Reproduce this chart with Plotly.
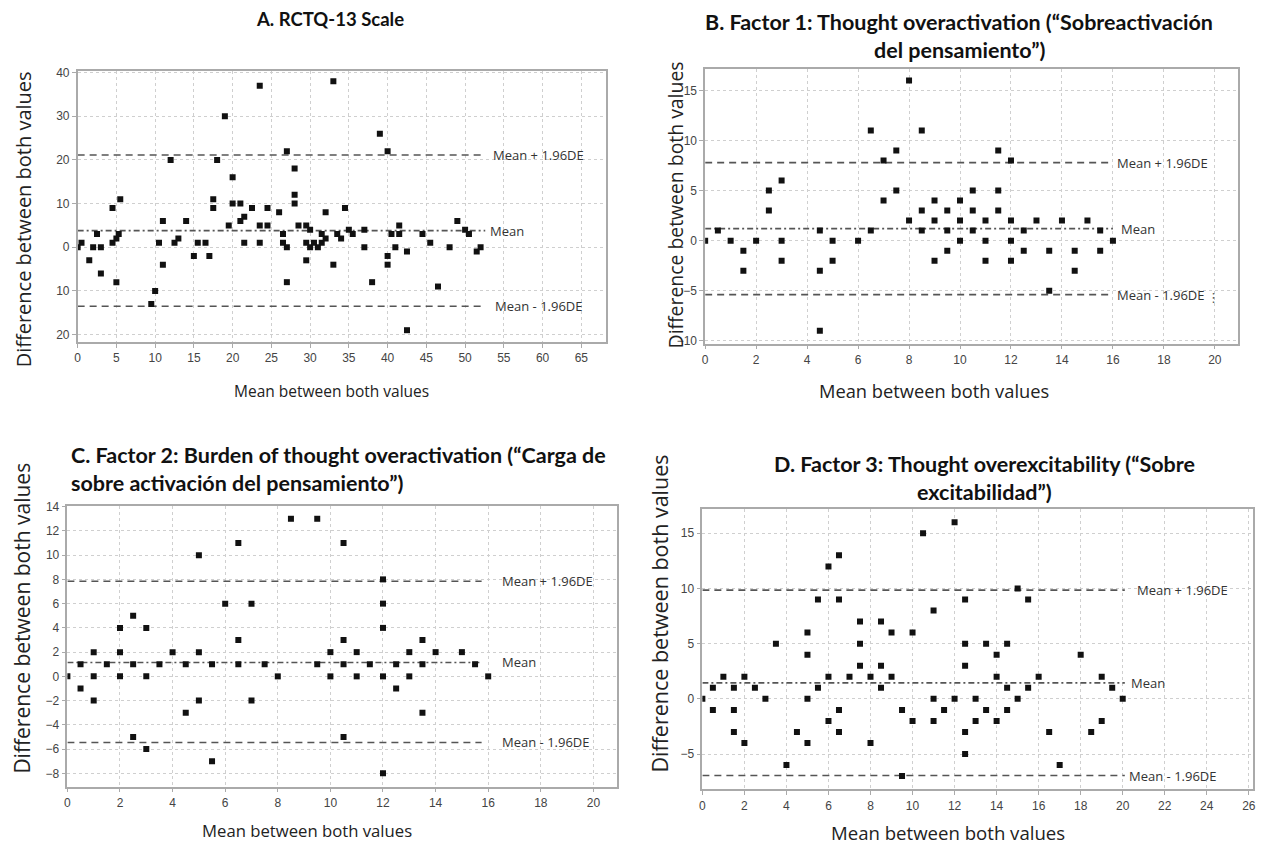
import plotly.graph_objects as go

# ---------------- DATA ----------------
# Panel A: RCTQ-13 Scale
a_mean = [0, 0.5, 1.5, 2, 2.5, 3, 3, 4.5, 4.5, 5, 5.3, 5.5, 5, 9.5, 10, 10.5, 11, 11, 12, 12.5,
          13, 14, 15, 15.5, 16.5, 17, 17.5, 17.5, 18, 19, 19.5, 20, 20, 21, 21, 21.5, 21.5, 22.5,
          23.5, 23.5, 23.5, 24.5, 24.5, 26, 26.5, 26.5, 27, 27, 27, 28, 28, 28, 28.5, 29.5, 29.5,
          29.5, 30, 30, 30.5, 31, 31.5, 31.5, 32, 32, 33, 33, 33.5, 34, 34.5, 35, 35.5, 37, 37,
          38, 39, 40, 40, 40, 40.5, 41, 41.5, 41.5, 42.5, 42.5, 44.5, 45.5, 46.5, 48, 49, 50,
          50.5, 51.5, 52]
a_diff = [0, 1, -3, 0, 3, 0, -6, 9, 1, 2, 3, 11, -8, -13, -10, 1, 6, -4, 20, 1,
          2, 6, -2, 1, 1, -2, 11, 9, 20, 30, 5, 16, 10, 10, 6, 7, 1, 9,
          37, 5, 1, 9, 5, 8, 3, 1, 22, 0, -8, 18, 12, 10, 5, 5, 1,
          -3, 4, 0, 1, 0, 3, 1, 2, 8, 38, -4, 3, 2, 9, 4, 3, 4, 0,
          -8, 26, 22, -2, -4, 3, 0, 5, 3, -1, -19, 3, 1, -9, 0, 6, 4,
          3, -1, 0]
a_limits = [3.8, 21.1, -13.5]          # mean, mean+1.96DE, mean-1.96DE
a_ytickvals = [-20, -10, 0, 10, 20, 30, 40]
a_yticktext = ["20", "10", "0", "10", "20", "30", "40"]
a_xtickvals = list(range(0, 70, 5))

# Panel B: Factor 1
b_mean = [0, 0.5, 1, 1.5, 1.5, 2, 2.5, 2.5, 3, 3, 3, 4.5, 4.5, 4.5, 5, 5, 6, 6.5, 6.5, 7, 7,
          7.5, 7.5, 8, 8, 8.5, 8.5, 8.5, 9, 9, 9, 9.5, 9.5, 9.5, 10, 10, 10, 10.5, 10.5, 10.5,
          11, 11, 11, 11.5, 11.5, 11.5, 12, 12, 12, 12, 12.5, 12.5, 13, 13.5, 13.5, 14, 14.5,
          14.5, 15, 15.5, 15.5, 16]
b_diff = [0, 1, 0, -1, -3, 0, 5, 3, 6, 0, -2, 1, -3, -9, 0, -2, 0, 11, 1, 8, 4,
          9, 5, 16, 2, 11, 3, 1, 4, 2, -2, 3, 1, -1, 4, 2, 0, 5, 3, 1,
          2, 0, -2, 9, 5, 3, 8, 2, 0, -2, 1, -1, 2, -1, -5, 2, -1,
          -3, 2, 1, -1, 0]
b_limits = [1.2, 7.8, -5.4]
b_ytickvals = [-10, -5, 0, 5, 10, 15]
b_xtickvals = list(range(0, 22, 2))

# Panel C: Factor 2
c_mean = [0, 0.5, 0.5, 1, 1, 1, 1.5, 2, 2, 2, 2.5, 2.5, 2.5, 3, 3, 3, 3.5, 4, 4.5, 4.5, 5, 5,
          5, 5.5, 5.5, 6, 6.5, 6.5, 6.5, 7, 7, 7.5, 8, 8.5, 9.5, 9.5, 10, 10, 10.5, 10.5, 10.5,
          10.5, 11, 11, 11.5, 12, 12, 12, 12, 12, 12.5, 12.5, 13, 13, 13.5, 13.5, 13.5, 14, 15,
          15.5, 16]
c_diff = [0, 1, -1, 2, 0, -2, 1, 4, 2, 0, 5, 1, -5, 4, 0, -6, 1, 2, 1, -3, 10, 2,
          -2, 1, -7, 6, 11, 3, 1, 6, -2, 1, 0, 13, 13, 1, 2, 0, 11, 3, 1,
          -5, 2, 0, 1, 8, 6, 4, 0, -8, 1, -1, 2, 0, 3, 1, -3, 2, 2,
          1, 0]
c_limits = [1.15, 7.85, -5.45]
c_ytickvals = list(range(-8, 16, 2))
c_xtickvals = list(range(0, 22, 2))

# Panel D: Factor 3
d_mean = [0, 0.5, 0.5, 1, 1.5, 1.5, 1.5, 2, 2, 2.5, 3, 3.5, 4, 4.5, 5, 5, 5, 5, 5.5, 5.5, 6,
          6, 6, 6.5, 6.5, 6.5, 6.5, 7, 7.5, 7.5, 7.5, 8, 8, 8.5, 8.5, 8.5, 9, 9, 9.5, 9.5, 10,
          10, 10.5, 11, 11, 11, 11.5, 12, 12, 12.5, 12.5, 12.5, 12.5, 12.5, 13, 13, 13.5, 13.5,
          14, 14, 14, 14.5, 14.5, 14.5, 15, 15, 15.5, 15.5, 16, 16.5, 17, 18, 18.5, 19, 19,
          19.5, 20]
d_diff = [0, 1, -1, 2, 1, -1, -3, 2, -4, 1, 0, 5, -6, -3, 6, 4, 0, -4, 1, 9, 12,
          2, -2, 13, 9, -1, -3, 2, 7, 5, 3, 2, -4, 7, 3, 1, 6, 2, -1, -7, 6,
          -2, 15, 8, 0, -2, -1, 16, 0, 9, 5, 3, -3, -5, 0, -2, 5, -1,
          4, 2, -2, 5, 1, -1, 10, 0, 9, 1, 2, -3, -6, 4, -3, 2, -2,
          1, 0]
d_limits = [1.45, 9.85, -6.95]
d_ytickvals = [-5, 0, 5, 10, 15]
d_xtickvals = list(range(0, 28, 2))

limit_labels = ["Mean", "Mean + 1.96DE", "Mean - 1.96DE"]
panel_titles = [
    ["A. RCTQ-13 Scale"],
    ["B. Factor 1: Thought overactivation (“Sobreactivación", "del pensamiento”)"],
    ["C. Factor 2: Burden of thought overactivation (“Carga de", "sobre activación del pensamiento”)"],
    ["D. Factor 3: Thought overexcitability (“Sobre", "excitabilidad”)"],
]
y_title = "Difference between both values"
x_title = "Mean between both values"

# ---------------- FIGURE ----------------
W, H = 1264, 849


def px_x(p):
    return p / W


def px_y(p):
    return 1 - p / H


panels = [
    dict(x=a_mean, y=a_diff, lim=a_limits, end=52.6, lab=[52.9, 53.4, 53.6],
         xr=[0, 68.2], yr=[-21.7, 40.3], dom=(75, 606, 66, 340),
         xt=a_xtickvals, yt=a_ytickvals, ytt=a_yticktext,
         title_pos=[(329, 13)], title_anchor="center", title_size=18.5,
         yt_pos=(21, 216), yt_size=20, xt_pos=(330, 390), xt_size=15.5),
    dict(x=b_mean, y=b_diff, lim=b_limits, end=16.0, lab=[16.25, 16.1, 16.1],
         xr=[0, 20.9], yr=[-10.3, 17.2], dom=(705.5, 1240.7, 63.3, 341.7),
         xt=b_xtickvals, yt=b_ytickvals, ytt=None,
         title_pos=[(961, 16), (961, 45)], title_anchor="center", title_size=21.5,
         yt_pos=(676, 201), yt_size=19.4, xt_pos=(935, 389), xt_size=18.3),
    dict(x=c_mean, y=c_diff, lim=c_limits, end=15.75, lab=[16.45, 16.45, 16.45],
         xr=[0, 20.9], yr=[-9.1, 14.05], dom=(64.7, 617, 506, 790),
         xt=c_xtickvals, yt=c_ytickvals, ytt=None,
         title_pos=[(66, 454), (66, 483)], title_anchor="left", title_size=21.5,
         yt_pos=(19, 619), yt_size=21, xt_pos=(305, 834), xt_size=16.7),
    dict(x=d_mean, y=d_diff, lim=d_limits, end=20.1, lab=[20.3, 20.6, 20.2],
         xr=[0, 26.2], yr=[-8.2, 17.2], dom=(702.7, 1256, 509, 792.7),
         xt=d_xtickvals, yt=d_ytickvals, ytt=None,
         title_pos=[(986, 463), (986, 492)], title_anchor="center", title_size=21.5,
         yt_pos=(660, 615), yt_size=21.5, xt_pos=(950, 836), xt_size=18.6),
]

fig = go.Figure()
annotations = []
layout_axes = {}

tick_font = dict(family="Liberation Sans", size=12, color="#444444")
label_font = dict(family="Open Sans", size=13, color="#333333")
line_styles = ["6px,3px,2px,3px", "7px,5px", "7px,5px"]

for i, p in enumerate(panels):
    n = "" if i == 0 else str(i + 1)
    xa, ya = "x" + n, "y" + n
    for k in range(3):
        fig.add_trace(go.Scatter(
            x=[0, p["end"]], y=[p["lim"][k], p["lim"][k]], mode="lines",
            line=dict(color="#555555", width=1.6, dash=line_styles[k]),
            xaxis=xa, yaxis=ya, showlegend=False, hoverinfo="skip"))
        annotations.append(dict(
            x=p["lab"][k], y=p["lim"][k], xref=xa, yref=ya, text=limit_labels[k],
            showarrow=False, xanchor="left", yanchor="middle", font=label_font))
    fig.add_trace(go.Scatter(
        x=p["x"], y=p["y"], mode="markers",
        marker=dict(symbol="square", size=6, color="#111111", line=dict(width=0)),
        xaxis=xa, yaxis=ya, showlegend=False))
    l, r, t, b = p["dom"]
    common = dict(showgrid=True, gridcolor="#cfcfcf", griddash="dot", gridwidth=1,
                  showline=True, linecolor="#aaaaaa", linewidth=1.5, mirror=True,
                  ticks="outside", ticklen=4, tickcolor="#aaaaaa", tickfont=tick_font,
                  zeroline=False)
    layout_axes["xaxis" + n] = dict(common, domain=[px_x(l), px_x(r)], range=p["xr"],
                                    tickvals=p["xt"], anchor=ya)
    yd = dict(common, domain=[px_y(b), px_y(t)], range=p["yr"],
              tickvals=p["yt"], anchor=xa)
    if p["ytt"] is not None:
        yd["ticktext"] = p["ytt"]
    layout_axes["yaxis" + n] = yd

    for line_txt, (tx, ty) in zip(panel_titles[i], p["title_pos"]):
        annotations.append(dict(text="<b>" + line_txt + "</b>", x=px_x(tx), y=px_y(ty),
                                xref="paper", yref="paper", xanchor=p["title_anchor"],
                                yanchor="middle", showarrow=False,
                                font=dict(family="Lato", size=p["title_size"], color="#111111")))
    yx, yy = p["yt_pos"]
    annotations.append(dict(text=y_title, x=px_x(yx), y=px_y(yy), xref="paper", yref="paper",
                            xanchor="center", yanchor="middle", textangle=-90, showarrow=False,
                            font=dict(family="Open Sans", size=p["yt_size"], color="#222222")))
    xx, xy = p["xt_pos"]
    annotations.append(dict(text=x_title, x=px_x(xx), y=px_y(xy), xref="paper", yref="paper",
                            xanchor="center", yanchor="middle", showarrow=False,
                            font=dict(family="Open Sans", size=p["xt_size"], color="#222222")))

annotations.append(dict(text="⋮", x=px_x(1225), y=px_y(295), xref="paper", yref="paper",
                        showarrow=False, font=dict(family="DejaVu Sans", size=13, color="#555555")))

fig.update_layout(
    width=W, height=H, autosize=False,
    margin=dict(l=0, r=0, t=0, b=0),
    paper_bgcolor="white", plot_bgcolor="white",
    annotations=annotations,
    **layout_axes,
)

fig.write_html("out.html", config={"displayModeBar": False},
               post_script="document.body.style.margin='0';document.body.style.overflow='hidden';")
